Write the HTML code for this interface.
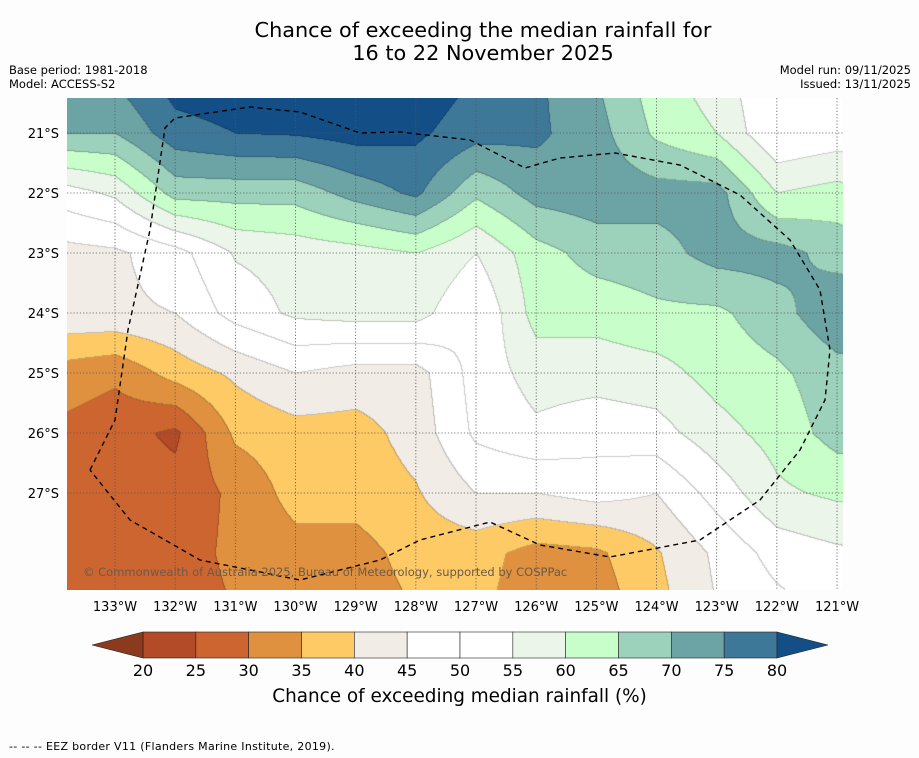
<!DOCTYPE html>
<html><head><meta charset="utf-8"><style>
body{margin:0;background:#fdfdfd;font-family:"DejaVu Sans","Liberation Sans",sans-serif;}
#wrap{position:relative;width:919px;height:758px;overflow:hidden;background:#fdfdfd;}
.t{position:absolute;white-space:nowrap;color:#000;}
</style></head><body>
<div id="wrap">
<div class="t" style="left:0;width:966px;text-align:center;top:19px;font-size:20.8px;line-height:23px;">Chance of exceeding the median rainfall for<br>16 to 22 November 2025</div>
<div class="t" style="left:9px;top:63px;font-size:11.5px;line-height:14px;">Base period: 1981-2018<br>Model: ACCESS-S2</div>
<div class="t" style="right:8px;top:63px;font-size:11.5px;line-height:14px;text-align:right;">Model run: 09/11/2025<br>Issued: 13/11/2025</div>
<canvas id="map" width="776" height="492" style="position:absolute;left:67px;top:98px;"></canvas>
<svg id="ov" width="919" height="758" style="position:absolute;left:0;top:0;"></svg>
<div class="t" style="left:83px;top:565px;font-size:11.5px;color:#6b5a4a;">© Commonwealth of Australia 2025, Bureau of Meteorology, supported by COSPPac</div>
<div class="t" style="left:0;width:919px;text-align:center;top:686px;font-size:18.4px;">Chance of exceeding median rainfall (%)</div>
<div class="t" style="left:9px;top:740px;font-size:11px;letter-spacing:0.3px;">--  --  -- EEZ border V11 (Flanders Marine Institute, 2019).</div>
</div>
<script>
const lons=[134,133,132,131,130,129,128,127,126,125,124,123,122,121,120];
const lats=[20,21,22,23,24,25,26,27,28,29];
const grid=[
[74,76,83,84,84,84,84,80,76,70,62,57,50,50,50],
[70,70,78,80,80.5,82,81,77,76,72,64,60,50,52,52],
[52,56,67,67,67,72,76,66,72,73,72,72,60,62,58],
[43,44,48,55.5,57,58,60,55,63,67,68,72,72,68,66],
[44,44,45,52,56,57,57,50,62,62,64,64,68,74,74],
[33,31,37,41,45,43,43,52,57,57,58,62,64,68,68],
[29,27,24,36,38,38,42,51,54,52,53,58,62,67,67],
[28,27,27,31,37,37,39.5,45,45,47,45,52,59,61,61],
[28,27,28,31,33,33,37,37,33,34,39.5,46,52,54,55],
[28,27,28,30,31,32,35,36,32,32,38,45,48,52,54]];
const levels=[20,25,30,35,40,45,50,55,60,65,70,75,80];
const tickLons=[133,132,131,130,129,128,127,126,125,124,123,122,121];
const tickLats=[21,22,23,24,25,26,27];
const colors=["#8c3a1e","#b34a28","#cc6530","#e0913f","#fdca66","#f1ece6","#ffffff","#ffffff","#ebf5e9","#c8fec9","#9cd1bb","#6ca4a6","#3e7898","#134f86"];
function xOf(lon){return 115+(133-lon)*60.17;}
function yOf(lat){return 133+(lat-21)*60;}
function lonOfX(x){return 133-(x-115)/60.17;}
function latOfY(y){return 21+(y-133)/60;}
function cbX(v){return 143+(v-20)*(777-143)/60;}
function lvl(v){let k=0;for(const l of levels){if(v>=l)k++;}return k;}
function val(lon,lat){
 let fi=(134-lon),fj=(lat-20);
 fi=Math.max(0,Math.min(lons.length-1.001,fi));fj=Math.max(0,Math.min(lats.length-1.001,fj));
 const i=Math.floor(fi),j=Math.floor(fj),a=fi-i,b=fj-j;
 return grid[j][i]*(1-a)*(1-b)+grid[j][i+1]*a*(1-b)+grid[j+1][i]*(1-a)*b+grid[j+1][i+1]*a*b;}
const cv=document.getElementById('map'),ctx=cv.getContext('2d');
const W=cv.width,H=cv.height,img=ctx.createImageData(W,H);
const L=new Int8Array(W*H);const Vv=new Float32Array(W*H);
for(let y=0;y<H;y++)for(let x=0;x<W;x++){const v=val(lonOfX(x+67),latOfY(y+98));Vv[y*W+x]=v;L[y*W+x]=lvl(v);}
function hex(c){return[parseInt(c.substr(1,2),16),parseInt(c.substr(3,2),16),parseInt(c.substr(5,2),16)];}
const rgb=colors.map(hex);
for(let y=0;y<H;y++)for(let x=0;x<W;x++){
 const k=L[y*W+x];let c=rgb[k];
 let edge=(x+1<W&&L[y*W+x+1]!==k)||(y+1<H&&L[(y+1)*W+x]!==k);
 if(!edge&&k===7&&x+1<W&&Vv[y*W+x+1]<50)edge=true;
 if(!edge&&k===7&&y+1<H&&Vv[(y+1)*W+x]<50)edge=true;
 const p=(y*W+x)*4;
 if(edge){const f=0.8;img.data[p]=c[0]*f;img.data[p+1]=c[1]*f;img.data[p+2]=c[2]*f;}
 else{img.data[p]=c[0];img.data[p+1]=c[1];img.data[p+2]=c[2];}
 img.data[p+3]=255;}
ctx.putImageData(img,0,0);
const svg=document.getElementById('ov');const NS='http://www.w3.org/2000/svg';
function add(tag,attrs,name,text){const e=document.createElementNS(NS,tag);for(const k in attrs)e.setAttribute(k,attrs[k]);


if(text!==undefined)e.textContent=text;svg.appendChild(e);return e;}
tickLons.forEach(lon=>{const x=xOf(lon);
 add('line',{x1:x,x2:x,y1:98,y2:590,stroke:'#555','stroke-width':0.8,'stroke-dasharray':'1.2,2'},'lon-gridline');
 add('text',{x:x,y:611,'font-size':13,'text-anchor':'middle','font-family':'DejaVu Sans, sans-serif'},'lon-tick-label',lon+'°W');});
tickLats.forEach(lat=>{const y=yOf(lat);
 add('line',{x1:67,x2:843,y1:y,y2:y,stroke:'#555','stroke-width':0.8,'stroke-dasharray':'1.2,2'},'lat-gridline');
 add('text',{x:59,y:y+5,'font-size':13,'text-anchor':'end','font-family':'DejaVu Sans, sans-serif'},'lat-tick-label',lat+'°S');});
const eez=[[90,470],[115,420],[128,330],[150,230],[165,128],[175,118],[250,107],[300,112],[360,133],[400,132],[470,140],[525,168],[560,158],[615,153],[680,165],[740,195],[790,240],[820,290],[830,350],[825,400],[800,450],[760,500],[700,540],[610,557],[540,545],[490,522],[420,540],[380,560],[300,580],[200,560],[130,520],[90,470]];
add('polyline',{points:eez.map(p=>p.join(',')).join(' '),fill:'none',stroke:'#000','stroke-width':1.4,'stroke-dasharray':'5,4'},'eez-border');
for(let i=0;i<levels.length-1;i++){
 add('rect',{x:cbX(levels[i]),y:632,width:cbX(levels[i+1])-cbX(levels[i]),height:26,fill:colors[i+1],stroke:'#222','stroke-width':0.6},'colorbar-segment');}
add('polygon',{points:`${cbX(20)},632 92,645 ${cbX(20)},658`,fill:colors[0],stroke:'#222','stroke-width':0.6},'colorbar-extend-low');
add('polygon',{points:`${cbX(80)},632 828,645 ${cbX(80)},658`,fill:colors[13],stroke:'#222','stroke-width':0.6},'colorbar-extend-high');
levels.forEach(v=>add('text',{x:cbX(v),y:676,'font-size':16,'text-anchor':'middle','font-family':'DejaVu Sans, sans-serif'},'colorbar-tick-label',v));
</script>
</body></html>
